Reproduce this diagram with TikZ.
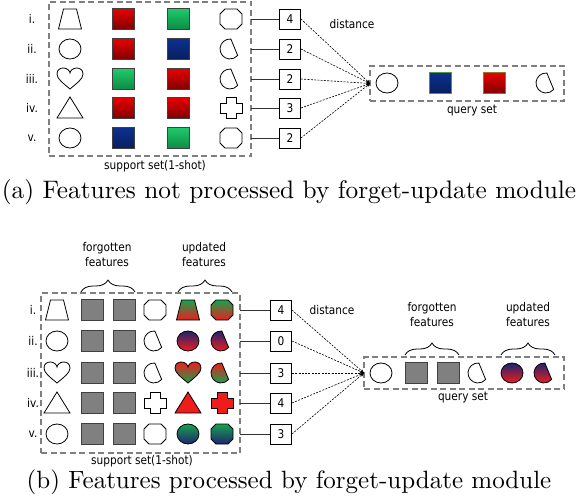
\documentclass[tikz,border=0pt]{standalone}
\usepackage{fontspec}
\newfontfamily\labfont[FakeStretch=0.88]{DejaVu Sans}
\usetikzlibrary{arrows.meta,decorations.pathreplacing}
\definecolor{rtop}{HTML}{E80000}
\definecolor{rbot}{HTML}{800000}
\definecolor{gtop}{HTML}{1FCB6A}
\definecolor{gbot}{HTML}{0E8A44}
\definecolor{btop}{HTML}{0D3190}
\definecolor{bbot}{HTML}{071F5E}
\definecolor{graysq}{HTML}{808080}
\definecolor{navy}{HTML}{1E2470}
\definecolor{ured}{HTML}{F01C1C}
\definecolor{ugreen}{HTML}{16A24E}
\definecolor{uorange}{HTML}{C07A2A}
\definecolor{dashgray}{HTML}{7F7F7F}
\definecolor{bordgreen}{HTML}{4E9A3A}
\definecolor{bordolive}{HTML}{8A7A20}
\tikzset{
 shp/.style={draw=black,line width=0.8pt,fill=white},
 sqr/.style={draw=black!75,line width=0.8pt},
 dbox/.style={draw=dashgray,line width=1.3pt,dash pattern=on 6pt off 3.5pt,inner sep=0pt,outer sep=0pt},
 numbox/.style={draw=black,line width=0.8pt,fill=white,minimum width=21pt,minimum height=20pt,inner sep=0pt,font=\labfont\fontsize{12}{13}\selectfont},
 lab/.style={font=\labfont\fontsize{12}{15}\selectfont,inner sep=0pt,align=center},
 conn/.style={draw=black!80,line width=0.7pt},
 dline/.style={line width=0.6pt,dash pattern=on 2pt off 1.3pt,-{Stealth[length=4pt,width=3pt]}},
 brc/.style={decorate,decoration={brace,amplitude=12pt},line width=0.8pt},
 g2r/.style={top color=ugreen,middle color=uorange,bottom color=ured},
 r2g/.style={top color=ured,middle color=uorange,bottom color=ugreen},
}
\newcommand{\ShTrap}[3]{\path[shift={(#1,#2)},shp,#3] (-6.5,-10) -- (6.5,-10) -- (11.5,10) -- (-11.5,10) -- cycle;}
\newcommand{\ShCirc}[3]{\path[shift={(#1,#2)},shp,#3] (0,0) ellipse[x radius=11,y radius=10];}
\newcommand{\ShTri}[3]{\path[shift={(#1,#2)},shp,#3] (0,-11) -- (13,10) -- (-13,10) -- cycle;}
\newcommand{\ShOct}[3]{\path[shift={(#1,#2)},shp,#3] (-11,-5) -- (-6,-10) -- (6,-10) -- (11,-5) -- (11,5) -- (6,10) -- (-6,10) -- (-11,5) -- cycle;}
\newcommand{\ShCut}[3]{\path[shift={(#1,#2)},shp,#3] (-85:10) arc[start angle=-85,end angle=-320,radius=10] -- cycle;}
\newcommand{\ShCross}[3]{\path[shift={(#1,#2)},shp,#3] (-5,-10.5) -- (5,-10.5) -- (5,-5) -- (11,-5) -- (11,5) -- (5,5) -- (5,10.5) -- (-5,10.5) -- (-5,5) -- (-11,5) -- (-11,-5) -- (-5,-5) -- cycle;}
\newcommand{\ShHeart}[3]{\path[shift={(#1,#2)},shp,#3] (0,10) .. controls (-7,4) and (-13,0) .. (-13,-5) .. controls (-13,-10) and (-9,-11) .. (-6.5,-11) .. controls (-3,-11) and (0,-8) .. (0,-6) .. controls (0,-8) and (3,-11) .. (6.5,-11) .. controls (9,-11) and (13,-10) .. (13,-5) .. controls (13,0) and (7,4) .. (0,10) -- cycle;}
\newcommand{\ShSq}[3]{\path[shift={(#1,#2)},sqr,#3] (-11,-10.5) rectangle (11,10.5);}
\begin{document}
\begin{tikzpicture}[x=1pt,y=-1pt]
\useasboundingbox (0,0) rectangle (580,500);
% ================= panel (a)
\node[dbox,minimum width=202pt,minimum height=154pt] (supa) at (150,79) {};
\node[lab] (supalab) at (155,166) {support set(1-shot)};
\node[lab] (ra1) at (32,19) {i.};
\node[lab] (ra2) at (32,49) {ii.};
\node[lab] (ra3) at (32,79) {iii.};
\node[lab] (ra4) at (32,108) {iv.};
\node[lab] (ra5) at (32,138) {v.};
% row i
\ShTrap{70}{19}{}
\ShSq{123}{19}{top color=rtop,bottom color=rbot}
\ShSq{178}{19}{top color=gtop,bottom color=gbot}
\ShOct{231}{19}{}
% row ii
\ShCirc{70}{49}{}
\ShSq{123}{49}{top color=rtop,bottom color=rbot}
\ShSq{178}{49}{top color=btop,bottom color=bbot}
\ShCut{230}{49}{}
% row iii
\ShHeart{70}{79}{}
\ShSq{123}{79}{top color=gtop,bottom color=gbot}
\ShSq{178}{79}{top color=rtop,bottom color=rbot}
\ShCut{230}{79}{}
% row iv
\ShTri{70}{108}{}
\ShSq{123}{108}{top color=rtop,bottom color=rbot}
\ShSq{178}{108}{top color=rtop,bottom color=rbot}
\ShCross{231}{108}{}
% row v
\ShCirc{70}{138}{}
\ShSq{123}{138}{top color=btop,bottom color=bbot}
\ShSq{178}{138}{top color=gtop,bottom color=gbot}
\ShOct{231}{138}{}
% numbers
\node[numbox] (na1) at (290,19) {4};
\node[numbox] (na2) at (290,49) {2};
\node[numbox] (na3) at (290,79) {2};
\node[numbox] (na4) at (290,108) {3};
\node[numbox] (na5) at (290,138) {2};
\foreach \i in {1,...,5}{\draw[conn] (na\i.west -| supa.east) -- (na\i.west);}
\node[lab] (dista) at (352,24) {distance};
\node[dbox,minimum width=194pt,minimum height=35pt] (qa) at (467,83.5) {};
\foreach \i in {1,...,5}{\draw[dline] (na\i.east) -- (qa.west);}
\ShCirc{387}{83}{}
\ShSq{440}{83}{top color=btop,bottom color=bbot,draw=bordgreen}
\ShSq{494}{83}{top color=rtop,bottom color=rbot,draw=bordolive}
\ShCut{546}{83}{}
\node[lab] (qalab) at (472,111) {query set};
\node[scale=2.53,inner sep=0pt] (capa) at (289,192) {(a) Features not processed by forget-update module};
% ================= panel (b)
\node[lab] (fb) at (107,254.5) {forgotten\\features};
\node[lab] (ub) at (204,254.5) {updated\\features};
\draw[brc] (81,292) -- (135,292);
\draw[brc] (178,292) -- (232,292);
\node[dbox,minimum width=199pt,minimum height=160pt] (supb) at (140.5,373) {};
\node[lab] (supblab) at (142,461.5) {support set(1-shot)};
\node[lab] (rb1) at (33,310) {i.};
\node[lab] (rb2) at (33,341) {ii.};
\node[lab] (rb3) at (33,373) {iii.};
\node[lab] (rb4) at (33,403) {iv.};
\node[lab] (rb5) at (33,434) {v.};
% row i
\ShTrap{57}{310}{}
\ShSq{92}{310}{fill=graysq}
\ShSq{124}{310}{fill=graysq}
\ShOct{155}{310}{}
\ShTrap{188}{310}{g2r}
\ShOct{222}{310}{g2r}
% row ii
\ShCirc{57}{341}{}
\ShSq{92}{341}{fill=graysq}
\ShSq{124}{341}{fill=graysq}
\ShCut{154}{341}{}
\ShCirc{188}{341}{top color=navy,bottom color=ured}
\ShCut{221}{341}{top color=navy,bottom color=ured}
% row iii
\ShHeart{57}{373}{}
\ShSq{92}{373}{fill=graysq}
\ShSq{124}{373}{fill=graysq}
\ShCut{154}{373}{}
\ShHeart{188}{373}{r2g}
\ShCut{221}{373}{r2g}
% row iv
\ShTri{57}{403}{}
\ShSq{92}{403}{fill=graysq}
\ShSq{124}{403}{fill=graysq}
\ShCross{155}{403}{}
\ShTri{188}{403}{fill=ured}
\ShCross{222}{403}{fill=ured}
% row v
\ShCirc{57}{434}{}
\ShSq{92}{434}{fill=graysq}
\ShSq{124}{434}{fill=graysq}
\ShOct{155}{434}{}
\ShCirc{188}{434}{top color=ugreen,bottom color=navy}
\ShOct{222}{434}{top color=ugreen,bottom color=navy}
% numbers
\node[numbox] (nb1) at (281,310) {4};
\node[numbox] (nb2) at (281,341) {0};
\node[numbox] (nb3) at (281,373) {3};
\node[numbox] (nb4) at (281,403) {4};
\node[numbox] (nb5) at (281,434) {3};
\foreach \i in {1,...,5}{\draw[conn] (nb\i.west -| supb.east) -- (nb\i.west);}
\node[lab] (distb) at (332,310) {distance};
\node[dbox,minimum width=200pt,minimum height=32pt] (qb) at (464,373) {};
\foreach \i in {1,...,5}{\draw[dline] (nb\i.east) -- (qb.west);}
\node[lab] (fq) at (432,314.5) {forgotten\\features};
\node[lab] (uq) at (528,314.5) {updated\\features};
\draw[brc] (405,355) -- (459,355);
\draw[brc] (501,355) -- (555,355);
\ShCirc{381}{373}{}
\ShSq{416}{373}{fill=graysq}
\ShSq{448}{373}{fill=graysq}
\ShCut{478}{373}{}
\ShCirc{512}{373}{top color=navy,bottom color=ured}
\ShCut{544}{373}{top color=navy,bottom color=ured}
\node[lab] (qblab) at (463,398) {query set};
\node[scale=2.5,inner sep=0pt] (capb) at (289,482) {(b) Features processed by forget-update module};
\end{tikzpicture}
\end{document}
